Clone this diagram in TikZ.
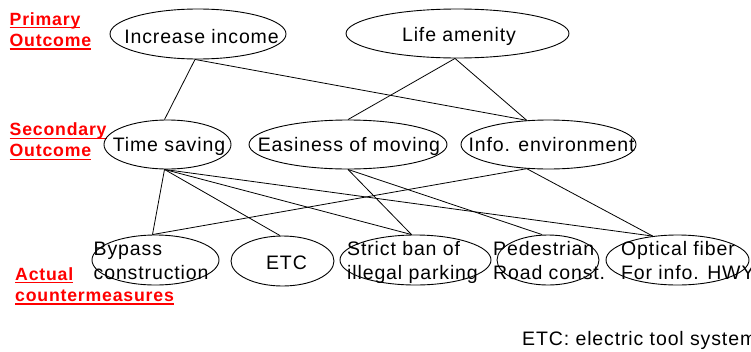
\documentclass[tikz,border=0pt]{standalone}
\usepackage{fontspec}
\setmainfont{Liberation Sans}
\newfontfamily\boxfont[LetterSpace=4.5]{Liberation Sans}
\newfontfamily\headfont[LetterSpace=4.5]{Liberation Sans}
\usetikzlibrary{shapes.geometric}
\newcommand{\redline}[1]{\setbox0\hbox{#1}\rlap{\rule[-3.2pt]{\wd0}{1.2pt}}\box0}

\tikzset{
	oval/.style={draw, ellipse, inner sep=0pt, line width=0.9pt},
	link/.style={line width=0.8pt},
	txt/.style={inner sep=0pt, font=\boxfont\fontsize{19.5}{24}\selectfont, align=left},
	head/.style={inner sep=0pt, text=red, font=\headfont\bfseries\fontsize{17.7}{21.3}\selectfont, align=left, anchor=north west},
}

\begin{document}
\begin{tikzpicture}[x=1pt, y=-1pt]
	\useasboundingbox (0,0) rectangle (751,351);
	% levels
	\node[head] (lvl1) at (9.5,12) {\redline{Primary}\\\redline{Outcome}};
	\node[head] (lvl2) at (9.5,122.5) {\redline{Secondary}\\\redline{Outcome}};
	\node[head] (lvl3) at (15,267) {\redline{Actual}\\\redline{countermeasures}};
	% outcomes
	\node[oval, minimum width=176pt, minimum height=50pt] (inc) at (198,34) {};
	\node[oval, minimum width=223pt, minimum height=49pt] (life) at (457.5,33.5) {};
	\node[oval, minimum width=127pt, minimum height=49pt] (tsave) at (167.5,144.5) {};
	\node[oval, minimum width=198pt, minimum height=49pt] (ease) at (348,144.5) {};
	\node[oval, minimum width=175pt, minimum height=49pt] (info) at (548.5,144.5) {};
	% countermeasures
	\node[oval, minimum width=127pt, minimum height=50pt] (bypass) at (155.5,260) {};
	\node[oval, minimum width=103pt, minimum height=50pt] (etc) at (282.5,261) {};
	\node[oval, minimum width=151pt, minimum height=50pt] (strict) at (415.5,260) {};
	\node[oval, minimum width=102pt, minimum height=50pt] (ped) at (548,260) {};
	\node[oval, minimum width=143pt, minimum height=50pt] (optic) at (677.5,260) {};
	% texts
	\node[txt, anchor=base] (inc-t) at (201.5,43.7) {Increase income};
	\node[txt, anchor=base] (life-t) at (459,41.7) {Life amenity};
	\node[txt, anchor=base] (tsave-t) at (169,151.7) {Time saving};
	\node[txt, anchor=base] (ease-t) at (349,151.7) {Easiness of moving};
	\node[txt, anchor=base] (info-t) at (551.5,151.7) {Info. environment};
	\node[txt, anchor=north west] (bypass-t) at (93.5,241.5) {Bypass\\construction};
	\node[txt, anchor=base] (etc-t) at (286.5,269.5) {ETC};
	\node[txt, anchor=north west] (strict-t) at (347,241.5) {Strict ban of\\illegal parking};
	\node[txt, anchor=north west] (ped-t) at (493,241.5) {Pedestrian\\Road const.};
	\node[txt, anchor=north west] (optic-t) at (621,241.5) {Optical fiber\\For info. HWY};
	\node[txt, anchor=base west] (note) at (522,345.5) {ETC: electric tool system};
	% links
	\draw[link] ([xshift=-3pt]inc.south) -- ([xshift=-3pt]tsave.north);
	\draw[link] ([xshift=-3pt]inc.south) -- (info.132);
	\draw[link] ([xshift=-2.5pt]life.south) -- (ease.north);
	\draw[link] ([xshift=-2.5pt]life.south) -- (info.132);
	\draw[link] ([xshift=-3pt]tsave.south) -- ([xshift=-3pt]bypass.north);
	\draw[link] ([xshift=-3pt]tsave.south) -- ([xshift=-2.5pt]etc.north);
	\draw[link] ([xshift=-3pt]tsave.south) -- ([xshift=-4pt]strict.north);
	\draw[link] ([xshift=-3pt]tsave.south) -- (optic.136);
	\draw[link] (ease.south) -- ([xshift=-4pt]strict.north);
	\draw[link] (ease.south) -- ([xshift=-6pt]ped.north);
	\draw[link] (info.228) -- ([xshift=-3pt]bypass.north);
	\draw[link] (info.228) -- (optic.136);
\end{tikzpicture}
\end{document}
